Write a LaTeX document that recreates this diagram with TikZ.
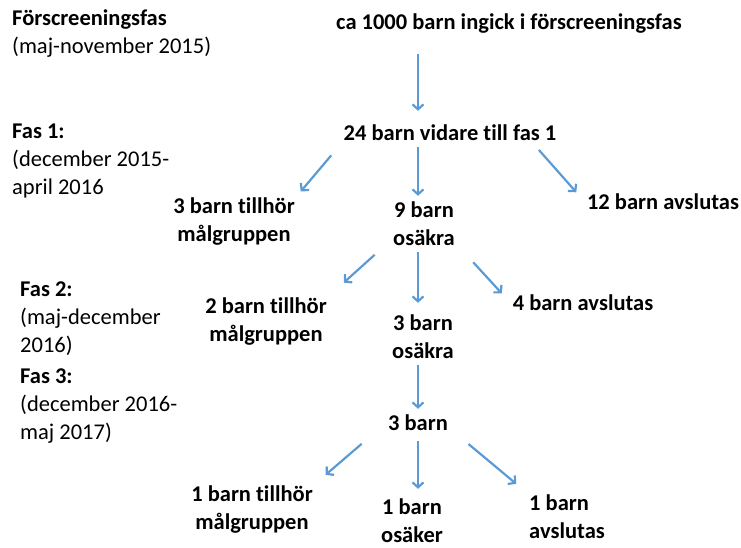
\documentclass[tikz,border=0pt]{standalone}
\usepackage{fontspec}
\setmainfont{Carlito}[Ligatures=NoCommon]
\usetikzlibrary{arrows.meta}
\definecolor{flowblue}{HTML}{5B9BD5}
\tikzset{
  count/.style={font=\fontsize{22.5}{28}\selectfont\bfseries, align=center, inner sep=2pt},
  phase/.style={font=\fontsize{22.5}{28}\selectfont, align=left, anchor=west, inner sep=0pt},
  flow/.style={draw=flowblue, line width=2.2pt, -{Straight Barb[length=5pt,width=11pt]}, shorten <=4pt, shorten >=4pt}
}

\begin{document}
\begin{tikzpicture}[x=1pt,y=-1pt]
  \useasboundingbox (0,0) rectangle (741,547);
  % phases on the left
  \foreach \name/\x/\y/\head/\period in {pre/12/34/Förscreeningsfas/{(maj-november 2015)},
      fas1/12/161/Fas 1:/{(december 2015-\\april 2016},
      fas2/20/319/Fas 2:/{(maj-december\\2016)},
      fas3/20/406/Fas 3:/{(december 2016-\\maj 2017)}} {
    \node[phase] (\name) at (\x,\y) {\textbf{\head}\\\period};
  }
  \coordinate (spine) at (418,0);
  % counts
  \node[count] (c1000) at (509,24) {ca 1000 barn ingick i förscreeningsfas};
  \node[count] (c24) at (450,133) {24 barn vidare till fas 1};
  \node[count] (in1) at (234,222) {3 barn tillhör\\målgruppen};
  \node[count] (un1) at (424,224) {9 barn\\osäkra};
  \node[count] (out1) at (663,202) {12 barn avslutas};
  \node[count] (in2) at (266,322) {2 barn tillhör\\målgruppen};
  \node[count] (un2) at (423,337) {3 barn\\osäkra};
  \node[count] (out2) at (583,303) {4 barn avslutas};
  \node[count] (c3) at (418,423) {3 barn};
  \node[count] (in3) at (252,510) {1 barn tillhör\\målgruppen};
  \node[count] (un3) at (412,521) {1 barn\\osäker};
  \node[count, align=left] (out3) at (567,517) {1 barn\\avslutas};
  % arrows
  \draw[flow, shorten <=18pt, shorten >=12pt] (c1000.south -| spine) -- (c24.north -| spine);
  \draw[flow, shorten <=16pt, shorten >=6pt] (c24.south west) -- (in1.north east);
  \draw[flow] (c24.south -| spine) -- (un1.north -| spine);
  \draw[flow, shorten <=9pt, shorten >=13pt] (c24.-7) -- (out1.west);
  \draw[flow, shorten <=22pt, shorten >=20pt] (un1.206) -- (in2.north east);
  \draw[flow, shorten >=10pt] (un1.south -| spine) -- (un2.north -| spine);
  \draw[flow, shorten <=24pt, shorten >=13pt] (un1.-32) -- (out2.west);
  \draw[flow] (un2.south -| spine) -- (c3.north -| spine);
  \draw[flow, shorten <=32pt, shorten >=14pt] (c3.west) -- (in3.north east);
  \draw[flow, shorten <=8pt, shorten >=8pt] (c3.south -| spine) -- (un3.north -| spine);
  \draw[flow, shorten <=24pt, shorten >=14pt] (c3.-10) -- (out3.north west);
\end{tikzpicture}
\end{document}
